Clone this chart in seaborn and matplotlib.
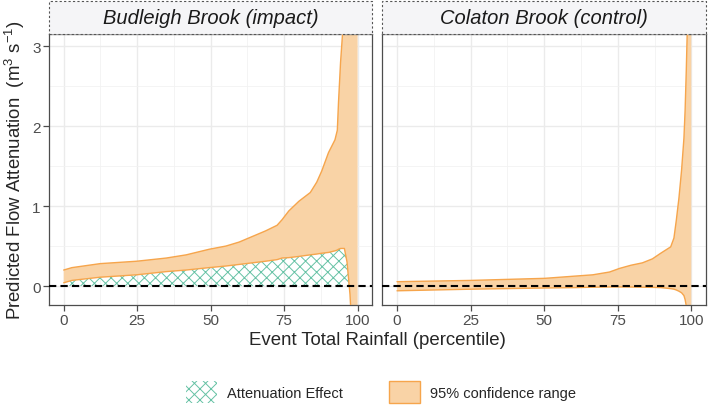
import numpy as np
import pandas as pd
import matplotlib
matplotlib.use('Agg')
import matplotlib.pyplot as plt
from matplotlib.patches import Rectangle, Patch
from matplotlib.ticker import MultipleLocator
import seaborn as sns

# percentile of event total rainfall, with CI bounds
bud_pct = [0, 2.8, 12.4, 24.8, 34.9, 41.7, 49.5, 55.2, 59.7, 64.2, 68.7, 72.6, 74.3, 76.6, 80,
           83.9, 86.1, 87.8, 90.1, 92.3, 93.1, 93.5, 94.2, 94.9, 95.5, 96.4, 97.1, 97.4, 97.7, 98.5, 100]
bud_upper = [0.20, 0.23, 0.28, 0.31, 0.35, 0.39, 0.46, 0.50, 0.55, 0.62, 0.69, 0.76, 0.83, 0.94, 1.06,
             1.17, 1.30, 1.44, 1.67, 1.83, 1.95, 2.30, 2.80, 3.17, 4.5, 6.0, 7.5, 8.5, 9.5, 13, 25]
bud_lower = [0.04, 0.07, 0.11, 0.14, 0.18, 0.20, 0.23, 0.25, 0.27, 0.29, 0.31, 0.33, 0.35, 0.355, 0.37,
             0.39, 0.40, 0.41, 0.42, 0.44, 0.45, 0.46, 0.47, 0.47, 0.47, 0.30, 0.02, -0.10, -0.30, -0.8, -3]

col_pct = [0, 25, 50.2, 60.9, 66.5, 72.2, 75.6, 79.5, 83.4, 86.8, 89.6, 93, 94.1, 94.9, 95.8,
           96.7, 97.5, 97.9, 98.3, 98.6, 99.2, 100]
col_upper = [0.054, 0.07, 0.096, 0.125, 0.14, 0.175, 0.22, 0.26, 0.29, 0.34, 0.41, 0.49, 0.60, 0.82, 1.10,
             1.45, 1.85, 2.20, 2.70, 3.15, 6, 12]
col_lower = [-0.06, -0.04, -0.025, -0.02, -0.015, -0.012, -0.012, -0.013, -0.015, -0.017, -0.02, -0.033,
             -0.04, -0.05, -0.065, -0.085, -0.12, -0.17, -0.25, -0.5, -1.5, -4]

sites = ['Budleigh Brook (impact)', 'Colaton Brook (control)']
x_ticks = [0, 25, 50, 75, 100]
y_ticks = [0, 1, 2, 3]

sns.set_theme(style='whitegrid')
plt.rcParams['font.family'] = ['Liberation Sans', 'DejaVu Sans']
plt.rcParams['mathtext.fontset'] = 'custom'
plt.rcParams['mathtext.rm'] = 'Liberation Sans'
plt.rcParams['hatch.linewidth'] = 0.7

fill_col = '#F9D3A6'
line_col = '#F6A54C'
hatch_col = '#66C2A5'

W, H = 709, 410
fig = plt.figure(figsize=(W / 100, H / 100), dpi=100)
ax1 = fig.add_axes([49 / W, 104.3 / H, 323.3 / W, 270.7 / H])
ax2 = fig.add_axes([382.3 / W, 104.3 / H, 323.7 / W, 270.7 / H])

data = [(bud_pct, bud_upper, bud_lower), (col_pct, col_upper, col_lower)]

for ax, site, (pct, up, lo) in zip([ax1, ax2], sites, data):
    df = pd.DataFrame({'pct': pct, 'upper': up, 'lower': lo})

    ax.fill_between(df['pct'], df['lower'], df['upper'], color=fill_col, lw=0, zorder=2)
    ax.fill_between(df['pct'], 0, df['lower'], where=df['lower'] > 0, interpolate=True,
                    facecolor='none', edgecolor=hatch_col, hatch='xxx', lw=0, zorder=2)
    sns.lineplot(data=df, x='pct', y='upper', ax=ax, color=line_col, lw=1.0, estimator=None, zorder=3)
    sns.lineplot(data=df, x='pct', y='lower', ax=ax, color=line_col, lw=1.0, estimator=None, zorder=3)
    ax.axhline(0, color='black', lw=1.5, ls=(0, (3.5, 2)), zorder=4)

    ax.set_xlim(-5, 105)
    ax.set_ylim(-0.234, 3.154)
    ax.set_xticks(x_ticks)
    ax.set_yticks(y_ticks)
    ax.xaxis.set_minor_locator(MultipleLocator(12.5))
    ax.yaxis.set_minor_locator(MultipleLocator(0.5))
    ax.grid(which='major', color='#EBEBEB', lw=1.0)
    ax.grid(which='minor', color='#F2F2F2', lw=0.6)
    ax.set_axisbelow(True)
    ax.set_facecolor('white')
    for sp in ax.spines.values():
        sp.set_color('#4D4D4D')
        sp.set_linewidth(0.9)
    ax.tick_params(axis='both', which='major', length=4, width=0.9, color='#4D4D4D',
                   labelcolor='#4D4D4D', labelsize=11, pad=2, bottom=True, left=True)
    ax.tick_params(which='minor', length=0)
    ax.set_xlabel('')
    ax.set_ylabel('')

    sh = 33 / 270.7
    ax.add_patch(Rectangle((0, 1), 1, sh, transform=ax.transAxes, facecolor='#F5F5F7',
                           edgecolor='#555555', ls=(0, (2, 2)), lw=0.8, clip_on=False, zorder=5))
    ax.text(0.5, 1 + sh / 2, site, transform=ax.transAxes, ha='center', va='center',
            fontsize=14.5, style='italic', color='#1A1A1A', zorder=6)

ax2.tick_params(axis='y', left=False, labelleft=False)

fig.text(377 / W, 1 - 341 / H, 'Event Total Rainfall (percentile)', ha='center', va='center',
         fontsize=13.4)
fig.text(15 / W, 1 - 170 / H, r'Predicted Flow Attenuation  (m$^{3}$ s$^{-1}$)', ha='center',
         va='center', rotation=90, fontsize=13.4)

handles = [Patch(facecolor='none', edgecolor=hatch_col, hatch='xxx', lw=0),
           Patch(facecolor=fill_col, edgecolor=line_col, lw=1.0)]
fig.legend(handles, ['Attenuation Effect', '95% confidence range'], loc='center',
           bbox_to_anchor=(381 / W, 1 - 393 / H), ncol=2, frameon=False, fontsize=10.5,
           handlelength=2.1, handleheight=2.0, handletextpad=0.7, columnspacing=3.2)

fig.savefig('out.png', dpi=100)
